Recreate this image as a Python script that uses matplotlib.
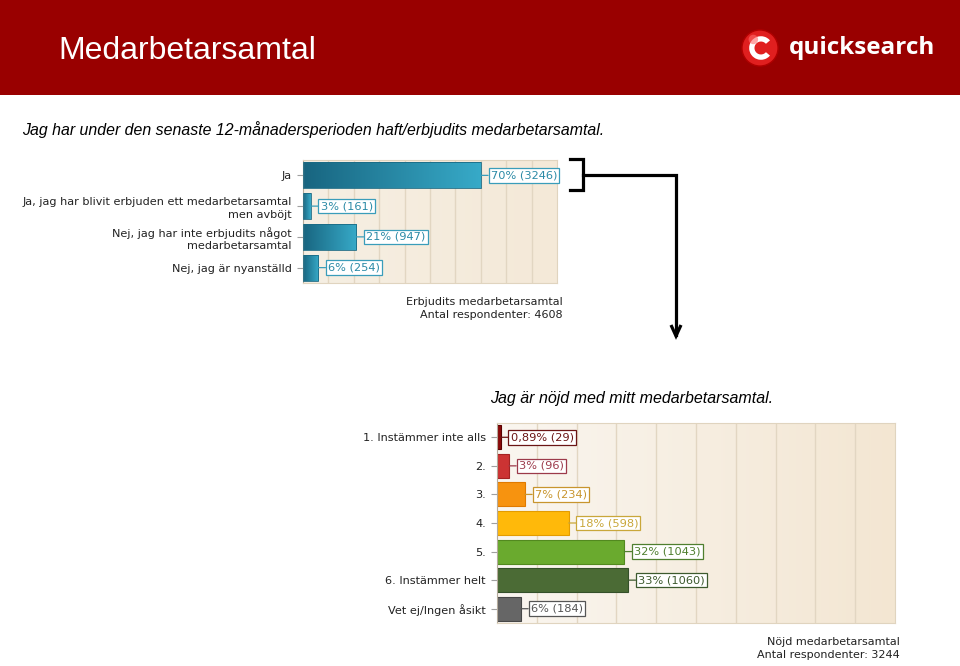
import numpy as np
import matplotlib
matplotlib.use("Agg")
import matplotlib.pyplot as plt
from matplotlib.colors import LinearSegmentedColormap
from matplotlib.patches import Rectangle, Circle, Wedge
from matplotlib.lines import Line2D

# ---------------- data ----------------
title = "Medarbetarsamtal"
q1_text = "Jag har under den senaste 12-månadersperioden haft/erbjudits medarbetarsamtal."
q1_categories = ["Ja",
                 "Ja, jag har blivit erbjuden ett medarbetarsamtal\nmen avböjt",
                 "Nej, jag har inte erbjudits något\nmedarbetarsamtal",
                 "Nej, jag är nyanställd"]
q1_pct = [70, 3, 21, 6]
q1_labels = ["70% (3246)", "3% (161)", "21% (947)", "6% (254)"]
q1_caption = "Erbjudits medarbetarsamtal\nAntal respondenter: 4608"

q2_text = "Jag är nöjd med mitt medarbetarsamtal."
q2_categories = ["1. Instämmer inte alls", "2.", "3.", "4.", "5.",
                 "6. Instämmer helt", "Vet ej/Ingen åsikt"]
q2_pct = [0.89, 3, 7, 18, 32, 33, 6]
q2_labels = ["0,89% (29)", "3% (96)", "7% (234)", "18% (598)",
             "32% (1043)", "33% (1060)", "6% (184)"]
q2_caption = "Nöjd medarbetarsamtal\nAntal respondenter: 3244"

q2_fill = ["#8a0a0a", "#cc3333", "#f7930f", "#ffb90a", "#6aaa2e", "#4b6b35", "#666666"]
q2_edge = ["#5a0000", "#a52222", "#e07a00", "#e39c00", "#52891f", "#34502a", "#474747"]
q2_text_col = ["#6b1515", "#9c3a4a", "#c8952e", "#c9a73a", "#4f7f2f", "#3d5a2e", "#555555"]

W, H = 960, 666
fig = plt.figure(figsize=(W / 100, H / 100), dpi=100)
fig.patch.set_facecolor("white")


def fx(x):
    return x / W


def fy(y):
    return 1 - y / H


# ---------------- header ----------------
fig.patches.append(Rectangle((0, fy(95)), 1, 95 / H, transform=fig.transFigure,
                             facecolor="#990000", edgecolor="none", zorder=-5))
fig.text(fx(58), fy(51), title, color="white", fontsize=23,
         family="Liberation Sans", va="center", ha="left")
# logo
fig.text(fx(789), fy(48), "quicksearch", color="white", fontsize=17.5,
         family="Open Sans", weight="bold", va="center", ha="left")
logo_ax = fig.add_axes([fx(741), fy(67), 38 / W, 38 / H], zorder=5)
logo_ax.set_xlim(-1, 1)
logo_ax.set_ylim(-1, 1)
logo_ax.set_aspect("equal")
logo_ax.axis("off")
logo_ax.add_patch(Circle((0, 0), 0.95, facecolor="#e01f1f", edgecolor="#b00000", lw=1))
logo_ax.add_patch(Wedge((0.05, 0.0), 0.62, 40, 320, width=0.28, facecolor="white"))
logo_ax.add_patch(Circle((-0.35, 0.45), 0.25, facecolor="#ff6b6b", edgecolor="none", alpha=0.6))

# ---------------- question texts ----------------
fig.text(fx(22), fy(130), q1_text, fontsize=11.4, style="italic",
         family="Liberation Sans", va="center", ha="left", color="black")
fig.text(fx(490), fy(398), q2_text, fontsize=11.5, style="italic",
         family="Liberation Sans", va="center", ha="left", color="black")


def style_axes(ax, n, bg_left, bg_right):
    grad = np.linspace(0, 1, 256).reshape(1, -1)
    cmap = LinearSegmentedColormap.from_list("bg", [bg_left, bg_right])
    ax.imshow(grad, extent=(0, 100, n - 0.5, -0.5), cmap=cmap, aspect="auto",
              zorder=-1, origin="upper")
    ax.set_xlim(0, 100)
    ax.set_ylim(n - 0.5, -0.5)
    ax.set_xticks(np.arange(10, 100, 10))
    ax.set_axisbelow(True)
    ax.xaxis.grid(True, color="#e2d6c2", lw=1)
    ax.tick_params(axis="x", length=0, labelbottom=False)
    ax.tick_params(axis="y", length=4, color="#a0a0a0", pad=4, labelsize=8.1,
                   labelcolor="#222222")
    for s in ["top", "right", "bottom"]:
        ax.spines[s].set_color("#e0d4bf")
    ax.spines["left"].set_color("#b5ab9c")


# ---------------- chart 1 ----------------
ax1 = fig.add_axes([fx(303), fy(283), (557 - 303) / W, (283 - 160) / H])
n1 = len(q1_categories)
style_axes(ax1, n1, "#f6efe3", "#f4e9d8")
ax1.set_yticks(range(n1))
ax1.set_yticklabels(q1_categories, linespacing=1.3)
bar_h = 0.84
teal = LinearSegmentedColormap.from_list("teal", ["#186580", "#37aac8"])
grad = np.linspace(0, 1, 256).reshape(1, -1)
for i, v in enumerate(q1_pct):
    ax1.imshow(grad, extent=(0, v, i + bar_h / 2, i - bar_h / 2), cmap=teal,
               aspect="auto", zorder=2, origin="upper")
    ax1.add_patch(Rectangle((0, i - bar_h / 2), v, bar_h, facecolor="none",
                            edgecolor="#1b6a84", lw=0.6, zorder=3))
    ax1.annotate(q1_labels[i], xy=(v, i), xytext=(10, 0), textcoords="offset pixels",
                 va="center", ha="left", fontsize=8.2, color="#2b8aa6", zorder=5,
                 bbox=dict(boxstyle="square,pad=0.2", facecolor="white",
                           edgecolor="#3a9dba", lw=0.9),
                 arrowprops=dict(arrowstyle="-", color="#3a9dba", lw=0.9,
                                 shrinkA=0, shrinkB=0))
ax1.set_xlim(0, 100)
ax1.set_ylim(n1 - 0.5, -0.5)
fig.text(fx(563), fy(308.5), q1_caption, fontsize=8, ha="right", va="center",
         color="#222222", linespacing=1.35)

# ---------------- chart 2 ----------------
ax2 = fig.add_axes([fx(497), fy(623), (895 - 497) / W, (623 - 423) / H])
n2 = len(q2_categories)
style_axes(ax2, n2, "#faf6f0", "#f3e6d2")
ax2.set_yticks(range(n2))
ax2.set_yticklabels(q2_categories)
ax2.barh(range(n2), q2_pct, height=0.84, color=q2_fill, edgecolor=q2_edge,
         lw=0.8, zorder=2)
for i, v in enumerate(q2_pct):
    ax2.annotate(q2_labels[i], xy=(v, i), xytext=(10, 0), textcoords="offset pixels",
                 va="center", ha="left", fontsize=8.2, color=q2_text_col[i], zorder=5,
                 bbox=dict(boxstyle="square,pad=0.2", facecolor="white",
                           edgecolor=q2_text_col[i], lw=0.9),
                 arrowprops=dict(arrowstyle="-", color=q2_text_col[i], lw=0.9,
                                 shrinkA=0, shrinkB=0))
ax2.set_xlim(0, 100)
ax2.set_ylim(n2 - 0.5, -0.5)
fig.text(fx(900), fy(648.5), q2_caption, fontsize=8, ha="right", va="center",
         color="#222222", linespacing=1.35)

# ---------------- bracket and arrow ----------------
lw = 2.3
fig.lines.append(Line2D([fx(570), fx(583), fx(583), fx(570)],
                        [fy(159), fy(159), fy(190), fy(190)],
                        transform=fig.transFigure, color="black", lw=lw,
                        solid_joinstyle="miter"))
fig.lines.append(Line2D([fx(583), fx(676), fx(676)],
                        [fy(175), fy(175), fy(335)],
                        transform=fig.transFigure, color="black", lw=lw,
                        solid_joinstyle="miter"))
fig.lines.append(Line2D([fx(671), fx(676), fx(681)],
                        [fy(325), fy(336), fy(325)],
                        transform=fig.transFigure, color="black", lw=lw,
                        solid_joinstyle="miter", solid_capstyle="butt"))

fig.savefig("out.png", dpi=100, facecolor="white")
